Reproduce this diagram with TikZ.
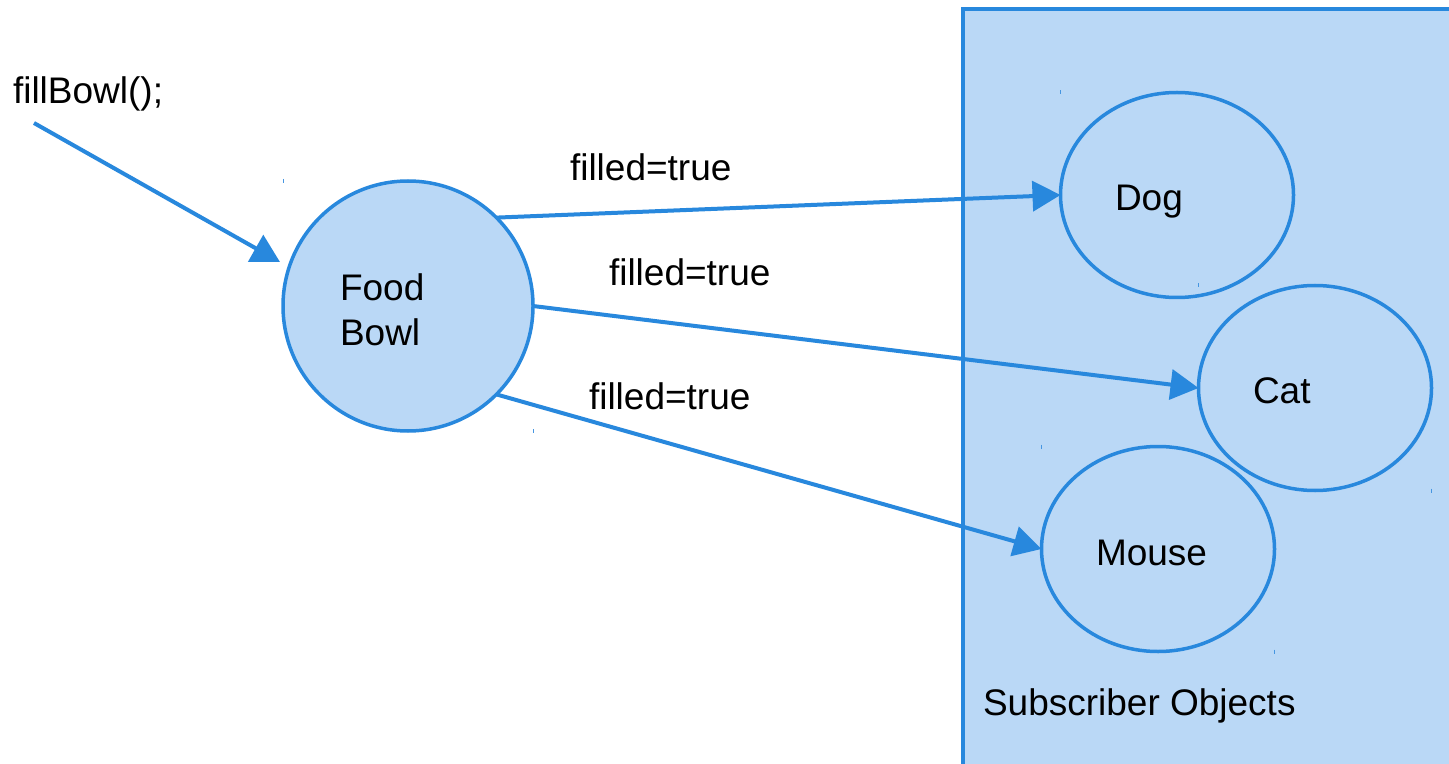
\documentclass[tikz,border=0pt]{standalone}
\usepackage{fontspec}
\setmainfont{Liberation Sans}
\usetikzlibrary{arrows.meta,shapes.geometric}
\definecolor{strokeblue}{RGB}{40,136,221}
\definecolor{fillblue}{RGB}{186,216,246}
\definecolor{tickblue}{RGB}{70,150,225}
\begin{document}
\begin{tikzpicture}[x=0.5pt,y=-0.5pt,
  every node/.style={font=\fontsize{18.5pt}{22.5pt}\selectfont, inner sep=0pt, outer sep=0pt},
  frame/.style={draw=strokeblue, fill=fillblue, line width=2pt},
  blob/.style={ellipse, draw=strokeblue, fill=fillblue, line width=1.75pt,
    minimum width=116.5pt, minimum height=102.5pt},
  bowlshape/.style={circle, draw=strokeblue, fill=fillblue, line width=1.75pt,
    minimum size=125pt},
  link/.style={draw=strokeblue, line width=2pt,
    -{Triangle[length=14pt,width=15pt]}},
  label/.style={anchor=base west, text=black},
  handle/.style={draw=tickblue, line width=0.5pt}]
  \clip (0,0) rectangle (1449,764);
  \fill[white] (0,0) rectangle (1449,764);

  % subscriber container
  \draw[frame] (963,9) rectangle (1480,800);

  % small selection handles at the corners of a shape's bounding box
  \newcommand\cornerhandles[1]{%
    \draw[handle] ([yshift=1pt]#1.west |- #1.north) -- ([yshift=-1pt]#1.west |- #1.north);
    \draw[handle] ([yshift=1pt]#1.east |- #1.south) -- ([yshift=-1pt]#1.east |- #1.south);
  }

  % shapes, each followed by its handles
  \node[bowlshape] (bowl) at (408,306) {};
  \cornerhandles{bowl}
  \node[blob] (dog) at (1177,195) {};
  \cornerhandles{dog}
  \node[blob] (cat) at (1315,388) {};
  \cornerhandles{cat}
  \node[blob] (mouse) at (1158,549) {};
  \cornerhandles{mouse}

  % connectors
  \coordinate (callstart) at (34,123);
  \coordinate (callend) at (280,262);
  \draw[link] (callstart) -- (callend);
  \draw[link] (bowl.45) -- (dog.180);
  \draw[link] (bowl.0) -- (cat.180);
  \draw[link] (bowl.-45) -- (mouse.180);

  % texts
  \node[label] (calltext) at (13,104) {fillBowl();};
  \node[label] (msg1) at (570,181) {filled=true};
  \node[label] (msg2) at (609,286) {filled=true};
  \node[label] (msg3) at (589,409) {filled=true};
  \node[label] (bowltext1) at (340,300) {Food};
  \node[label] (bowltext2) at (340,345) {Bowl};
  \node[label] (dogtext) at (1115,211) {Dog};
  \node[label] (cattext) at (1253,403) {Cat};
  \node[label] (mousetext) at (1096,565) {Mouse};
  \node[label] (grouptext) at (983,715) {Subscriber Objects};
\end{tikzpicture}
\end{document}
